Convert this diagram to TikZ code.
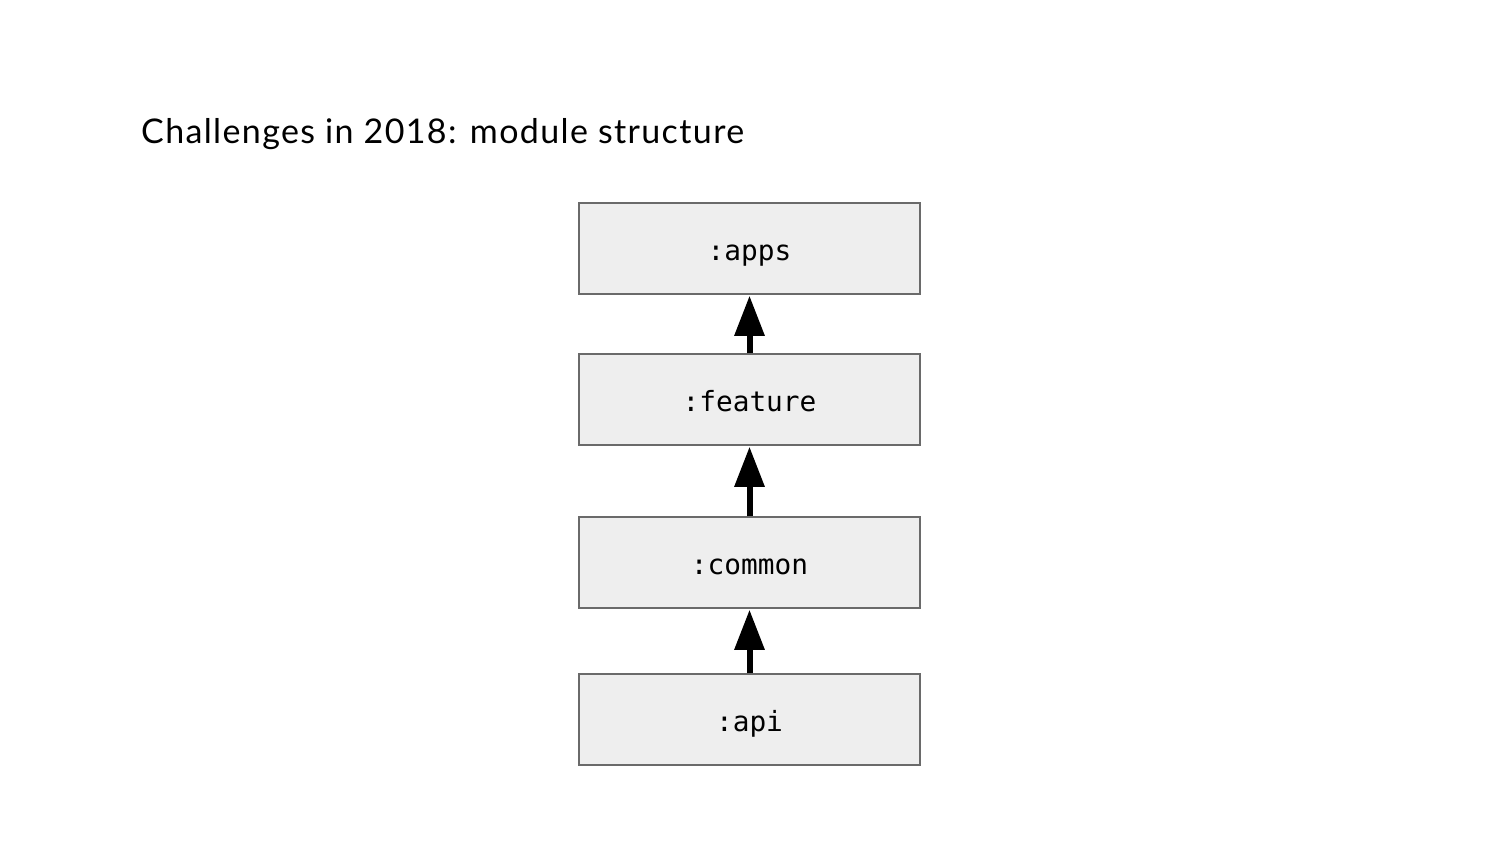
\documentclass[tikz,border=0pt]{standalone}
\usepackage{fontspec}
\setmainfont{Lato}[LetterSpace=4]
\newfontfamily\monofont{DejaVu Sans Mono}
\usetikzlibrary{arrows.meta}
\definecolor{boxfill}{HTML}{EEEEEE}
\definecolor{boxline}{HTML}{6A6A6A}
\tikzset{
  modbox/.style={draw=boxline, line width=1.5pt, fill=boxfill, minimum width=341pt, minimum height=91pt, inner sep=0pt, text height=27pt, text depth=4pt, font=\monofont\fontsize{27.8pt}{30pt}\selectfont},
  deparrow/.style={line width=6pt, -{Triangle[width=29pt,length=40pt]}, shorten >=1pt}
}
\begin{document}
\begin{tikzpicture}[x=1pt,y=-1pt]
\useasboundingbox (0,0) rectangle (1500,844);
\node[anchor=base west, inner sep=0pt, font=\fontsize{34pt}{40pt}\selectfont] (title) at (141,143) {Challenges in 2018: module structure};
\node[modbox] (apps) at (749.5,248.5) {:apps};
\node[modbox] (feature) at (749.5,399.5) {:feature};
\node[modbox] (common) at (749.5,562.5) {:common};
\node[modbox] (api) at (749.5,719.5) {:api};
\draw[deparrow] (feature.north) -- (apps.south);
\draw[deparrow] (common.north) -- (feature.south);
\draw[deparrow] (api.north) -- (common.south);
\end{tikzpicture}
\end{document}
